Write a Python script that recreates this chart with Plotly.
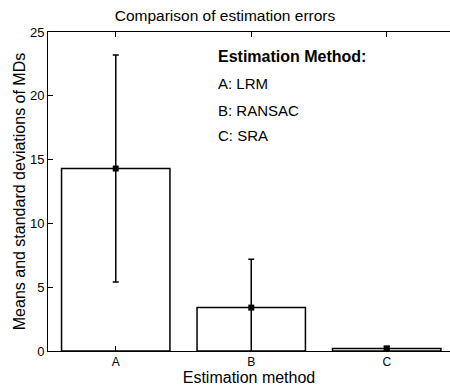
import plotly.graph_objects as go

categories = ["A", "B", "C"]
means = [14.3, 3.4, 0.2]
stds = [8.9, 3.8, 0.15]
legend_lines = ["<b>Estimation Method:</b>", "A: LRM", "B: RANSAC", "C: SRA"]

xpos = [1, 2, 3]
font = "Liberation Sans, Arial, Helvetica, sans-serif"

fig = go.Figure()
fig.add_trace(go.Bar(
    x=xpos, y=means, width=0.8,
    marker=dict(color="white", line=dict(color="black", width=1.5)),
    error_y=dict(type="data", array=stds, color="black", thickness=1.5, width=3),
    showlegend=False,
))
fig.add_trace(go.Scatter(
    x=xpos, y=means, mode="markers",
    marker=dict(symbol="square", size=6, color="black"),
    showlegend=False,
))

ys = [0.922, 0.837, 0.755, 0.674]
for txt, yy in zip(legend_lines, ys):
    fig.add_annotation(text=txt, xref="paper", yref="paper", x=0.418, y=yy,
                       xanchor="left", yanchor="middle", showarrow=False,
                       font=dict(size=16 if "<b>" in txt else 15, color="black", family=font))

fig.update_layout(
    width=450, height=387,
    margin=dict(l=48, r=0, t=32, b=36),
    paper_bgcolor="white", plot_bgcolor="white",
    font=dict(family=font, color="black", size=13),
    title=dict(text="Comparison of estimation errors", x=0.5, xanchor="center",
               y=1 - 16 / 387, yanchor="middle", font=dict(size=15.5)),
    bargap=0.2,
)
fig.update_xaxes(
    range=[0.5, 3.467], tickvals=xpos, ticktext=categories, automargin=False,
    ticks="inside", ticklen=5, tickcolor="black", showline=True, linecolor="black",
    linewidth=1, mirror="ticks", showgrid=False, zeroline=False,
    tickfont=dict(size=12),
    title=dict(text="Estimation method", font=dict(size=16), standoff=0),
)
fig.update_yaxes(
    range=[0, 25], tickvals=[0, 5, 10, 15, 20, 25], automargin=False,
    ticks="inside", ticklen=5, tickcolor="black", showline=True, linecolor="black",
    linewidth=1, showgrid=False, zeroline=False,
    tickfont=dict(size=13),
    title=dict(text="Means and standard deviations of MDs", font=dict(size=16), standoff=0),
)

fig.write_html("out.html", config={"displayModeBar": False},
               post_script="document.body.style.margin='0';")
